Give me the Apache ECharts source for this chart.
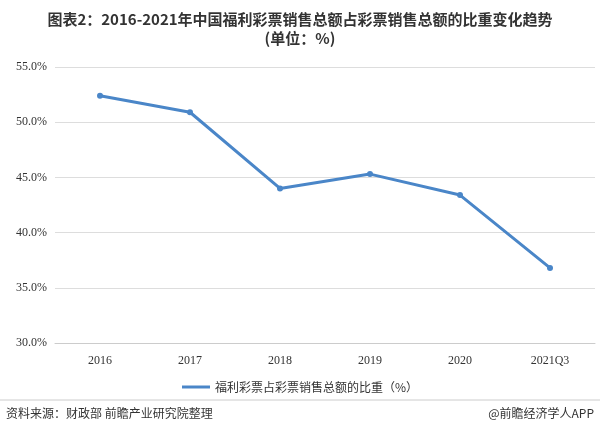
<!DOCTYPE html>
<html><head><meta charset="utf-8">
<script src="https://cdn.jsdelivr.net/npm/echarts@6/dist/echarts.min.js"></script>
<style>html,body{margin:0;padding:0;background:#fff}#c{width:600px;height:436px}</style>
</head><body><div id="c"></div>
<script>
const categories = ['2016','2017','2018','2019','2020','2021Q3'];
const shareValues = [52.4, 50.9, 44.0, 45.3, 43.4, 36.8];
const seriesName = '福利彩票占彩票销售总额的比重（%）';
const chart = echarts.init(document.getElementById('c'));
chart.setOption({
  animation:false,
  title:{text:'图表2：2016-2021年中国福利彩票销售总额占彩票销售总额的比重变化趋势\n(单位：%)',left:'center',top:5,
    textStyle:{fontSize:15,fontWeight:'bold',color:'#333',lineHeight:19,fontFamily:'Noto Sans CJK SC'}},
  legend:{data:[seriesName],top:376,left:'center',itemWidth:28,itemHeight:3,icon:'rect',
    textStyle:{fontSize:12,color:'#333',fontFamily:'Noto Sans CJK SC'}},
  grid:{left:55,right:5,top:67,bottom:93,containLabel:false},
  xAxis:{type:'category',data:categories,boundaryGap:true,
    axisLine:{lineStyle:{color:'#ccc'}},axisTick:{show:false},
    axisLabel:{color:'#333',fontSize:12,margin:12,fontFamily:'Times New Roman, Liberation Serif'}},
  yAxis:{type:'value',min:30,max:55,interval:5,
    axisLabel:{formatter:v=>v.toFixed(1)+'%',color:'#333',fontSize:12,fontFamily:'Times New Roman, Liberation Serif'},
    splitLine:{lineStyle:{color:'#ddd'}},axisLine:{show:false},axisTick:{show:false}},
  series:[{name:seriesName,type:'line',data:shareValues,symbol:'circle',symbolSize:6,
    lineStyle:{color:'#4a86c8',width:3},itemStyle:{color:'#4a86c8'}}],
  graphic:[
    {type:'line',shape:{x1:0,y1:400,x2:600,y2:400},style:{stroke:'#ccc',lineWidth:1}},
    {type:'text',left:6,top:407,style:{text:'资料来源：财政部 前瞻产业研究院整理',fontSize:12,fill:'#333',fontFamily:'Noto Sans CJK SC'}},
    {type:'text',right:6,top:407,style:{text:'@前瞻经济学人APP',fontSize:12,fill:'#333',fontFamily:'Noto Sans CJK SC'}}
  ]
});
</script></body></html>
